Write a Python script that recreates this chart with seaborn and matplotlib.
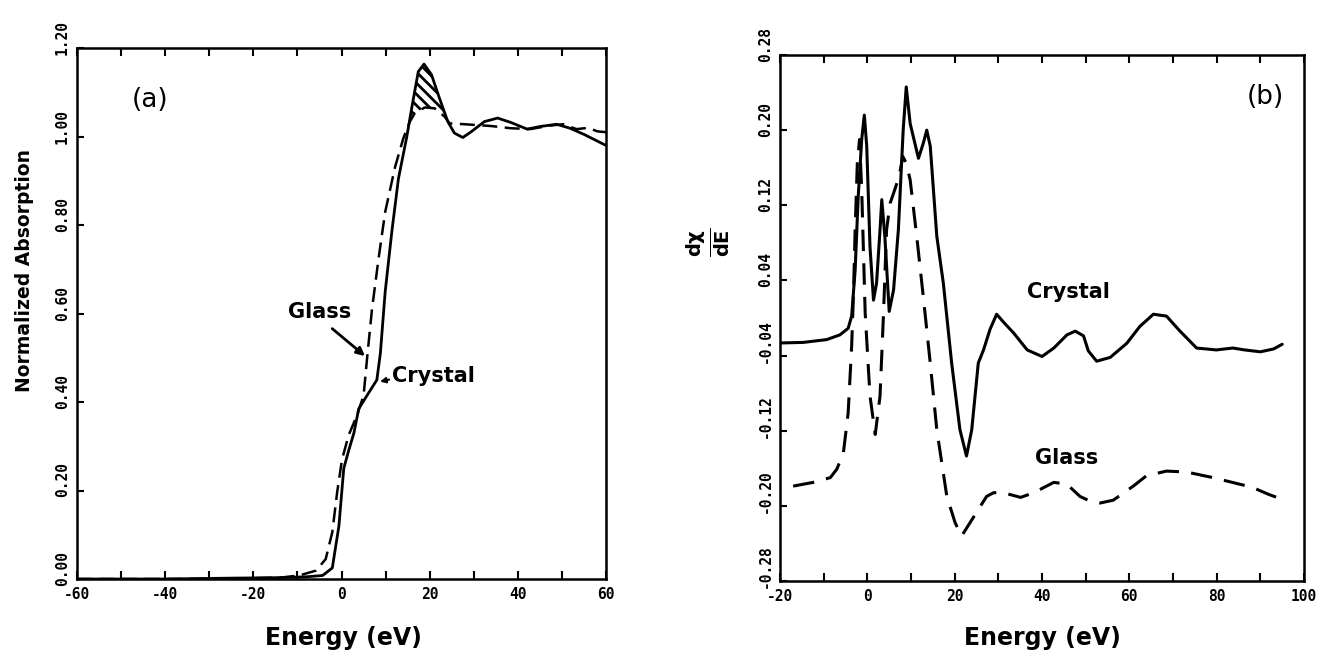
import numpy as np
import pandas as pd
import seaborn as sns
import matplotlib
matplotlib.use('Agg')
import matplotlib.pyplot as plt
from matplotlib.ticker import MultipleLocator
from matplotlib.transforms import ScaledTranslation

# panel (a): normalized absorption vs energy
abs_crystal_e = [-60, -40, -25, -15, -8, -4.3, -2.1, -0.6, 0.5, 1.6, 2.8, 3.9, 6.1, 8.0, 8.8, 9.9,
                 11.4, 12.9, 14.8, 15.9, 17.4, 18.7, 20.4, 22.2, 24.1, 25.6, 27.5, 29.4, 32.4, 35.4,
                 38.4, 42.1, 45.1, 48.8, 51.8, 55, 58, 60]
abs_crystal = [0, 0, 0.002, 0.003, 0.005, 0.008, 0.025, 0.12, 0.25, 0.29, 0.33, 0.385, 0.42, 0.45,
               0.51, 0.65, 0.785, 0.905, 1.0, 1.064, 1.147, 1.164, 1.14, 1.087, 1.034, 1.008, 0.998,
               1.011, 1.034, 1.042, 1.032, 1.017, 1.023, 1.028, 1.019, 1.005, 0.99, 0.98]
abs_glass_e = [-60, -40, -25, -14, -9.6, -5.8, -3.6, -2.1, -1.0, 0.1, 1.6, 3.5, 5.0, 5.8, 6.9, 8.4,
               9.9, 12.1, 14.0, 15.5, 16.6, 18.9, 21.1, 23.4, 24.5, 27.9, 30.9, 33.9, 38.4, 42.8,
               47.3, 50.3, 53.3, 56, 58, 60]
abs_glass = [0, 0, 0.001, 0.003, 0.008, 0.019, 0.045, 0.106, 0.196, 0.27, 0.325, 0.37, 0.415, 0.50,
             0.61, 0.725, 0.83, 0.93, 0.996, 1.034, 1.053, 1.066, 1.064, 1.045, 1.03, 1.028, 1.026,
             1.024, 1.019, 1.017, 1.025, 1.028, 1.017, 1.02, 1.012, 1.01]

# panel (b): derivative dchi/dE vs energy
der_crystal_e = [-20, -14.7, -9.3, -6.3, -4.4, -3.6, -2.8, -2.1, -1.3, -0.7, -0.15, 0.6, 1.4, 2.1,
                 2.9, 3.3, 4.0, 5.0, 6.0, 7.1, 8.2, 8.9, 9.8, 11.7, 12.8, 13.6, 14.4, 15.9, 17.4,
                 19.3, 21.2, 22.7, 23.9, 25.4, 26.6, 28.1, 29.6, 31.1, 33.5, 36.6, 40.0, 42.7, 45.7,
                 47.6, 49.5, 50.6, 52.5, 55.6, 59.4, 62.4, 65.5, 68.5, 71.6, 75.4, 79.9, 83.7, 86.4,
                 90, 93, 95]
der_crystal = [-0.0266, -0.026, -0.023, -0.018, -0.011, 0.002, 0.051, 0.129, 0.190, 0.216, 0.183,
               0.076, 0.019, 0.037, 0.094, 0.126, 0.087, 0.007, 0.030, 0.094, 0.200, 0.246, 0.207,
               0.170, 0.186, 0.200, 0.183, 0.087, 0.037, -0.048, -0.119, -0.147, -0.119, -0.048,
               -0.034, -0.012, 0.004, -0.004, -0.016, -0.034, -0.041, -0.032, -0.018, -0.014,
               -0.019, -0.035, -0.046, -0.042, -0.027, -0.009, 0.004, 0.002, -0.014, -0.032,
               -0.034, -0.032, -0.034, -0.036, -0.033, -0.028]
der_glass_e = [-17, -12.4, -8.5, -7.0, -5.5, -4.4, -3.6, -3.2, -2.8, -2.3, -1.8, -1.3, -0.5, 0.6,
               1.8, 2.9, 3.7, 4.4, 5.2, 6.3, 7.3, 8.1, 8.9, 9.8, 11.3, 12.8, 14.4, 15.9, 18.2, 20.1,
               21.6, 23.5, 25.4, 27.3, 28.9, 31.1, 35.1, 38.1, 42.7, 45.7, 48.7, 51.0, 53.3, 56.3,
               60.9, 63.9, 68.5, 73.1, 79.2, 85.3, 88, 92, 95]
der_glass = [-0.179, -0.175, -0.170, -0.161, -0.144, -0.101, -0.030, 0.023, 0.094, 0.165, 0.190,
             0.137, 0.005, -0.083, -0.124, -0.083, 0.005, 0.094, 0.122, 0.137, 0.151, 0.172, 0.165,
             0.147, 0.087, 0.023, -0.048, -0.119, -0.190, -0.218, -0.232, -0.218, -0.204, -0.190,
             -0.186, -0.186, -0.191, -0.186, -0.175, -0.177, -0.190, -0.195, -0.197, -0.194,
             -0.179, -0.168, -0.163, -0.164, -0.170, -0.177, -0.180, -0.188, -0.193]

a_yticks = [0.0, 0.2, 0.4, 0.6, 0.8, 1.0, 1.2]
b_yticks = [-0.28, -0.20, -0.12, -0.04, 0.04, 0.12, 0.20, 0.28]

sns.set_style('ticks')
plt.rcParams['font.family'] = ['DejaVu Sans']
plt.rcParams['text.color'] = 'black'
plt.rcParams['axes.labelcolor'] = 'black'
plt.rcParams['hatch.linewidth'] = 2.0

fig = plt.figure(figsize=(13.35, 6.57), dpi=100)
ax1 = fig.add_axes([0.0577, 0.1187, 0.3963, 0.808])
ax2 = fig.add_axes([0.5843, 0.1157, 0.3925, 0.8006])

tick_font = dict(family='DejaVu Sans Mono', weight='bold', size=10.5)

# ---- panel (a)
sns.lineplot(x=abs_crystal_e, y=abs_crystal, ax=ax1, color='black', lw=2.0, estimator=None, sort=False)
sns.lineplot(x=abs_glass_e, y=abs_glass, ax=ax1, color='black', lw=1.8, estimator=None, sort=False)
ax1.lines[-1].set_dashes((6, 3))

# hatched region where the crystal peak sits above the glass curve
ce = np.array(abs_crystal_e); cy = np.array(abs_crystal)
ge = np.array(abs_glass_e); gy = np.array(abs_glass)
mc = (ce >= 15.5) & (ce <= 24.1)
mg = (ge >= 15.5) & (ge <= 24.5)
px = np.concatenate([[15.5], ce[mc], ge[mg][::-1]])
py = np.concatenate([[1.034], cy[mc], gy[mg][::-1]])
ax1.fill(px, py, facecolor='none', edgecolor='black', hatch='\\\\\\', lw=0)

ax1.set_xlim(-60, 60)
ax1.set_ylim(0, 1.2)
ax1.xaxis.set_minor_locator(MultipleLocator(10))
ax1.set_xticks(np.arange(-60, 61, 20))
ax1.set_xticklabels([str(v) for v in range(-60, 61, 20)], **tick_font)
ax1.set_yticks(a_yticks)
ax1.set_yticklabels([f'{v:.2f}' for v in a_yticks], rotation=90, va='bottom', **tick_font)

ax1.text(0.138, 0.902, '(a)', transform=ax1.transAxes, fontsize=19, ha='center', va='center')
ax1.text(-4.9, 0.603, 'Glass', fontsize=15, fontweight='bold', ha='center', va='center')
ax1.annotate('', xy=(5.8, 0.50), xytext=(-2.6, 0.57),
             arrowprops=dict(arrowstyle='-|>', lw=2, color='black', mutation_scale=12))
ax1.text(11.5, 0.459, 'Crystal', fontsize=15, fontweight='bold', ha='left', va='center')
ax1.annotate('', xy=(8.1, 0.445), xytext=(11.4, 0.452),
             arrowprops=dict(arrowstyle='-|>', lw=1.5, color='black', mutation_scale=8))

# ---- panel (b)
sns.lineplot(x=der_crystal_e, y=der_crystal, ax=ax2, color='black', lw=2.2, estimator=None, sort=False)
sns.lineplot(x=der_glass_e, y=der_glass, ax=ax2, color='black', lw=2.2, estimator=None, sort=False)
ax2.lines[-1].set_dashes((7, 4))

ax2.set_xlim(-20, 100)
ax2.set_ylim(-0.28, 0.28)
ax2.xaxis.set_minor_locator(MultipleLocator(10))
ax2.set_xticks(np.arange(-20, 101, 20))
ax2.set_xticklabels([str(v) for v in range(-20, 101, 20)], **tick_font)
ax2.set_yticks(b_yticks)
ax2.set_yticklabels([f'{v:.2f}' for v in b_yticks], rotation=90, va='bottom', **tick_font)

ax2.text(0.926, 0.92, '(b)', transform=ax2.transAxes, fontsize=19, ha='center', va='center')
ax2.text(46, 0.028, 'Crystal', fontsize=15, fontweight='bold', ha='center', va='center')
ax2.text(45.7, -0.149, 'Glass', fontsize=15, fontweight='bold', ha='center', va='center')

shift = ScaledTranslation(0, -5 / 72, fig.dpi_scale_trans)
for ax in (ax1, ax2):
    for s in ax.spines.values():
        s.set_visible(True)
        s.set_linewidth(1.8)
        s.set_color('black')
    ax.tick_params(axis='x', which='both', direction='in', top=True, bottom=True, length=6,
                   width=1.5, pad=6, colors='black')
    ax.tick_params(axis='y', which='both', direction='in', left=True, right=False, length=5,
                   width=1.5, pad=5, colors='black')
    for lab in ax.get_yticklabels():
        lab.set_transform(lab.get_transform() + shift)
    ax.set_xlabel('')
    ax.set_ylabel('')
    ax.grid(False)

fig.text(343 / 1335, 1 - 638 / 657, 'Energy (eV)', fontsize=17, fontweight='bold', ha='center', va='center')
fig.text(1042 / 1335, 1 - 638 / 657, 'Energy (eV)', fontsize=17, fontweight='bold', ha='center', va='center')
fig.text(25 / 1335, 1 - 271 / 657, 'Normalized Absorption', fontsize=13.5, fontweight='bold',
         rotation=90, ha='center', va='center')
fig.text(708 / 1335, 1 - 242 / 657, r'$\mathbf{\frac{d\chi}{dE}}$', fontsize=20,
         rotation=90, ha='center', va='center')

fig.savefig('out.png', dpi=100, facecolor='white')
